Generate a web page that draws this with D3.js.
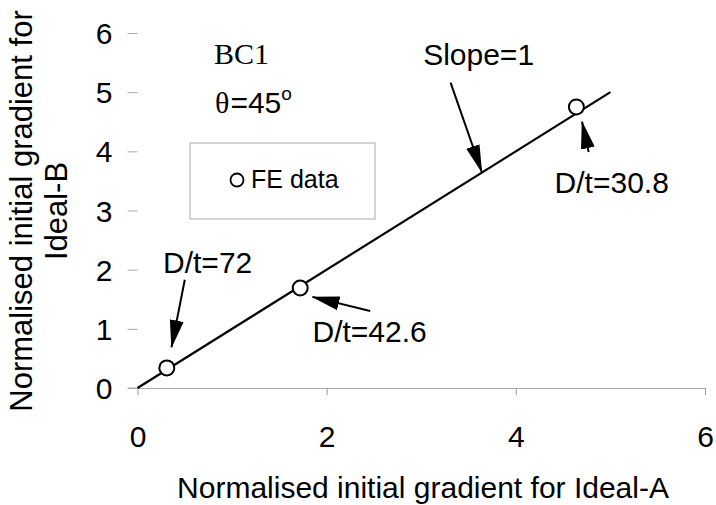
<!DOCTYPE html>
<html>
<head>
<meta charset="utf-8">
<script src="https://d3js.org/d3.v7.min.js"></script>
<style>
  body { margin:0; background:#fff; }
  svg { display:block; font-family:"Liberation Sans", Arial, sans-serif; }
</style>
</head>
<body>
<div id="chart"></div>
<script>
// FE data points (normalised initial gradients)
const feX = [0.31, 1.72, 4.64];
const feY = [0.34, 1.69, 4.75];
// slope = 1 reference line
const fitX = [0, 5];
const fitY = [0, 5];
const xTicks = [0, 2, 4, 6];
const yTicks = [0, 1, 2, 3, 4, 5, 6];

// annotations (data units)
const noteText = ["Slope=1", "D/t=30.8", "D/t=72", "D/t=42.6"];
const noteX = [3.02, 4.41, 0.27, 1.85];
const noteY = [5.46, 3.30, 1.94, 0.78];
const arrowFromX = [3.31, 4.77, 0.50, 2.46];
const arrowFromY = [5.16, 3.99, 1.83, 1.30];
const arrowToX = [3.64, 4.70, 0.36, 1.85];
const arrowToY = [3.65, 4.50, 0.69, 1.54];

const width = 716, height = 505;
const svg = d3.select("#chart").append("svg")
  .attr("width", width).attr("height", height);

const x = d3.scaleLinear().domain([0, 6]).range([137.5, 705]);
const y = d3.scaleLinear().domain([0, 6]).range([388, 33]);

svg.append("defs").append("marker")
  .attr("id", "head")
  .attr("viewBox", "0 0 28 14")
  .attr("markerWidth", 28).attr("markerHeight", 14)
  .attr("refX", 27).attr("refY", 7)
  .attr("orient", "auto")
  .attr("markerUnits", "userSpaceOnUse")
  .append("path").attr("d", "M0,0 L28,7 L0,14 Z").attr("fill", "#000");

// x axis
const xAxis = svg.append("g")
  .attr("transform", "translate(0," + y(0) + ")")
  .call(d3.axisBottom(x).tickValues(xTicks).tickSize(7).tickSizeOuter(0).tickFormat(d3.format("d")));
xAxis.select(".domain").attr("stroke", "#aaa").attr("stroke-width", 1);
xAxis.selectAll(".tick line").attr("stroke", "#999");
xAxis.selectAll("text").attr("y", 59).attr("dy", 0)
  .style("font-size", "30px").attr("fill", "#000")
  .style("font-family", "Liberation Sans, Arial, sans-serif");
svg.append("line")
  .attr("x1", 128).attr("x2", x(0)).attr("y1", y(0)).attr("y2", y(0))
  .attr("stroke", "#aaa");

// y axis (ticks only)
const yAxis = svg.append("g")
  .attr("transform", "translate(" + x(0) + ",0)")
  .call(d3.axisLeft(y).tickValues(yTicks).tickSize(10).tickPadding(15).tickFormat(d3.format("d")));
yAxis.select(".domain").remove();
yAxis.selectAll(".tick line").attr("stroke", "#aaa");
yAxis.selectAll("text").attr("dy", "0.35em")
  .style("font-size", "30px").attr("fill", "#000")
  .style("font-family", "Liberation Sans, Arial, sans-serif");

// axis titles
svg.append("text")
  .attr("x", 423).attr("y", 498)
  .attr("text-anchor", "middle")
  .style("font-size", "30px")
  .text("Normalised initial gradient for Ideal-A");
const yt = svg.append("text")
  .attr("transform", "translate(32,211) rotate(-90)")
  .attr("text-anchor", "middle")
  .style("font-size", "31px");
yt.append("tspan").attr("x", 0).attr("y", 0).text("Normalised initial gradient for");
yt.append("tspan").attr("x", 0).attr("y", 35).text("Ideal-B");

// slope = 1 line
svg.append("path")
  .datum(fitX.map((d, i) => [d, fitY[i]]))
  .attr("d", d3.line().x(d => x(d[0])).y(d => y(d[1])))
  .attr("fill", "none").attr("stroke", "#000").attr("stroke-width", 2.2);

// FE points
svg.selectAll("circle.fe")
  .data(feX.map((d, i) => [d, feY[i]]))
  .enter().append("circle")
  .attr("class", "fe")
  .attr("cx", d => x(d[0])).attr("cy", d => y(d[1]))
  .attr("r", 7.5)
  .attr("fill", "#fff").attr("stroke", "#000").attr("stroke-width", 2);

// annotation arrows
svg.selectAll("line.arrow")
  .data(noteText)
  .enter().append("line")
  .attr("class", "arrow")
  .attr("x1", (d, i) => x(arrowFromX[i])).attr("y1", (d, i) => y(arrowFromY[i]))
  .attr("x2", (d, i) => x(arrowToX[i])).attr("y2", (d, i) => y(arrowToY[i]))
  .attr("stroke", "#000").attr("stroke-width", 2)
  .attr("marker-end", "url(#head)");

svg.selectAll("text.note")
  .data(noteText)
  .enter().append("text")
  .attr("class", "note")
  .attr("x", (d, i) => x(noteX[i])).attr("y", (d, i) => y(noteY[i]))
  .style("font-size", "30px")
  .text(d => d);

// case label
svg.append("text")
  .attr("x", 214).attr("y", 64)
  .style("font-family", "Liberation Serif, Times New Roman, serif")
  .style("font-size", "30px")
  .text("BC1");
const th = svg.append("text").attr("x", 215).attr("y", 113).style("font-size", "30px");
th.append("tspan").style("font-family", "Liberation Serif, serif").text("θ");
th.append("tspan").attr("dx", 1).text("=45");
th.append("tspan").attr("dy", -13).style("font-size", "19px").text("o");

// legend
svg.append("rect")
  .attr("x", 190).attr("y", 143).attr("width", 185).attr("height", 76)
  .attr("fill", "none").attr("stroke", "#aaa").attr("stroke-width", 1);
svg.append("circle")
  .attr("cx", 237).attr("cy", 180).attr("r", 6.5)
  .attr("fill", "#fff").attr("stroke", "#000").attr("stroke-width", 1.8);
svg.append("text")
  .attr("x", 251).attr("y", 188)
  .style("font-size", "25px")
  .text("FE data");
</script>
</body>
</html>
